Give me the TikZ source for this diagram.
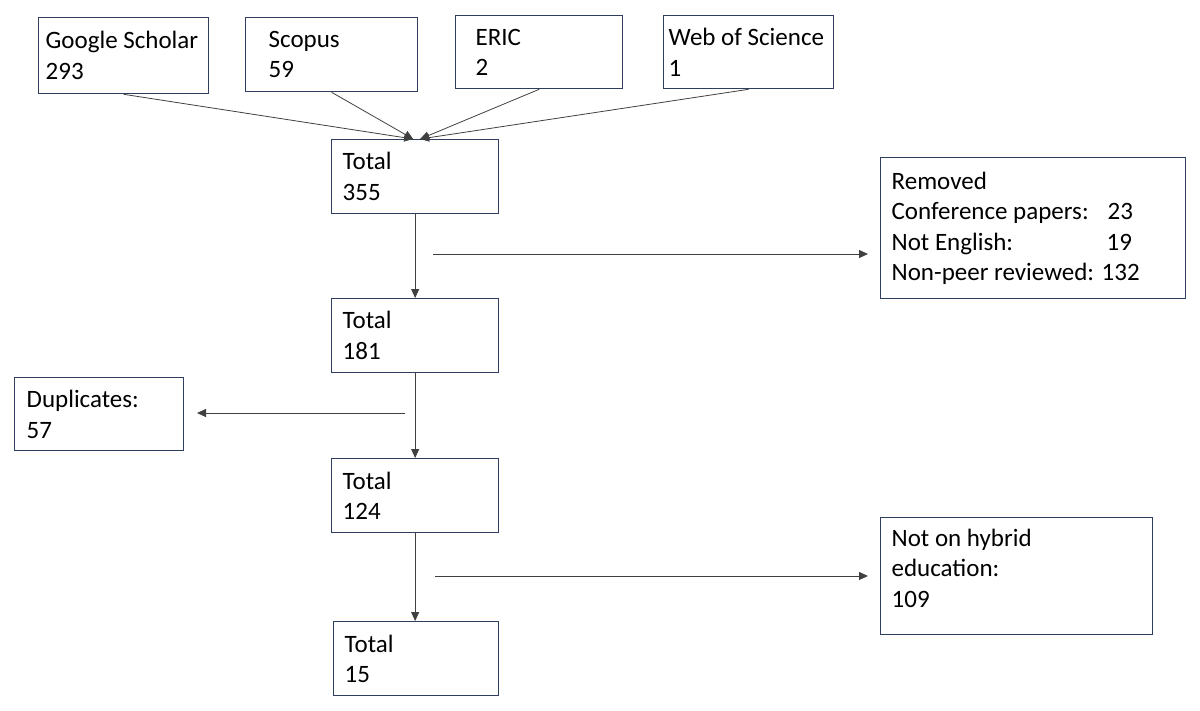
\documentclass[tikz,border=0pt]{standalone}
\usepackage{fontspec}
\setmainfont{Carlito}
\usepackage{tikz}
\usetikzlibrary{positioning,arrows.meta,calc}
\usepackage{xcolor}
\definecolor{boxline}{RGB}{47,62,95}
\definecolor{arrline}{RGB}{64,64,64}

\begin{document}
\begin{tikzpicture}[x=1pt, y=-1pt,
  every node/.style={font=\fontsize{25}{30.5}\selectfont},
  box/.style={draw=boxline, line width=1.3pt, anchor=north west, align=flush left, inner ysep=0pt},
  flow/.style={draw=arrline, line width=0.8pt, -{Triangle[length=9pt,width=8pt]}}]
  \useasboundingbox (0,0) rectangle (1200,710);

  % databases
  \node[box, inner xsep=7pt,  text width=156pt, minimum height=76pt] (gs) at (38,17)  {Google Scholar\\293};
  \node[box, inner xsep=23pt, text width=126pt, minimum height=74pt] (sc) at (245,17) {Scopus\\59};
  \node[box, inner xsep=20pt, text width=127pt, minimum height=73pt] (er) at (455,15) {ERIC\\2};
  \node[box, inner xsep=5pt,  text width=160pt, minimum height=73pt] (ws) at (663,15) {Web of Science\\1};

  % totals
  \node[box, inner xsep=11pt, text width=145pt, minimum height=74pt] (t1) at (331,139) {Total\\355};
  \node[box, inner xsep=11pt, text width=145pt, minimum height=74pt] (t2) at (331,298) {Total\\181};
  \node[box, inner xsep=11pt, text width=145pt, minimum height=74pt] (t3) at (331,458) {Total\\124};
  \node[box, inner xsep=11pt, text width=143pt, minimum height=74pt] (t4) at (333,621) {Total\\15};

  % exclusions
  \node[box, inner xsep=11pt, text width=283pt, minimum height=141pt] (rem) at (880,157)
    {Removed\\\makebox[216pt][l]{Conference papers:}23\\\makebox[215pt][l]{Not English:}19\\Non-peer reviewed: 132};
  \node[box, inner xsep=12pt, text width=145pt, minimum height=73pt] (dup) at (14,377) {Duplicates:\\57};
  \node[box, inner xsep=11pt, text width=250pt, minimum height=117pt] (hyb) at (880,517)
    {Not on hybrid\\education:\\109\\[-14pt]\mbox{}};

  \coordinate (inL) at ($(t1.north)+(-2,0)$);
  \coordinate (inR) at ($(t1.north)+(5,0)$);
  \coordinate (c1a) at (433,254); \coordinate (c1b) at (868,254);
  \coordinate (c2a) at (405,413); \coordinate (c2b) at (197,413);
  \coordinate (c3a) at (435,576); \coordinate (c3b) at (868,576);

  \draw[flow] (gs.south)--(inL);
  \draw[flow] (sc.south)--(inL);
  \draw[flow] (er.south)--(inR);
  \draw[flow] (ws.south)--(inR);
  \draw[flow] (t1.south)--(t2.north);
  \draw[flow] (t2.south)--(t3.north);
  \draw[flow] (t3.south)--(t3.south |- t4.north);
  \draw[flow] (c1a)--(c1b);
  \draw[flow] (c2a)--(c2b);
  \draw[flow] (c3a)--(c3b);
\end{tikzpicture}
\end{document}
